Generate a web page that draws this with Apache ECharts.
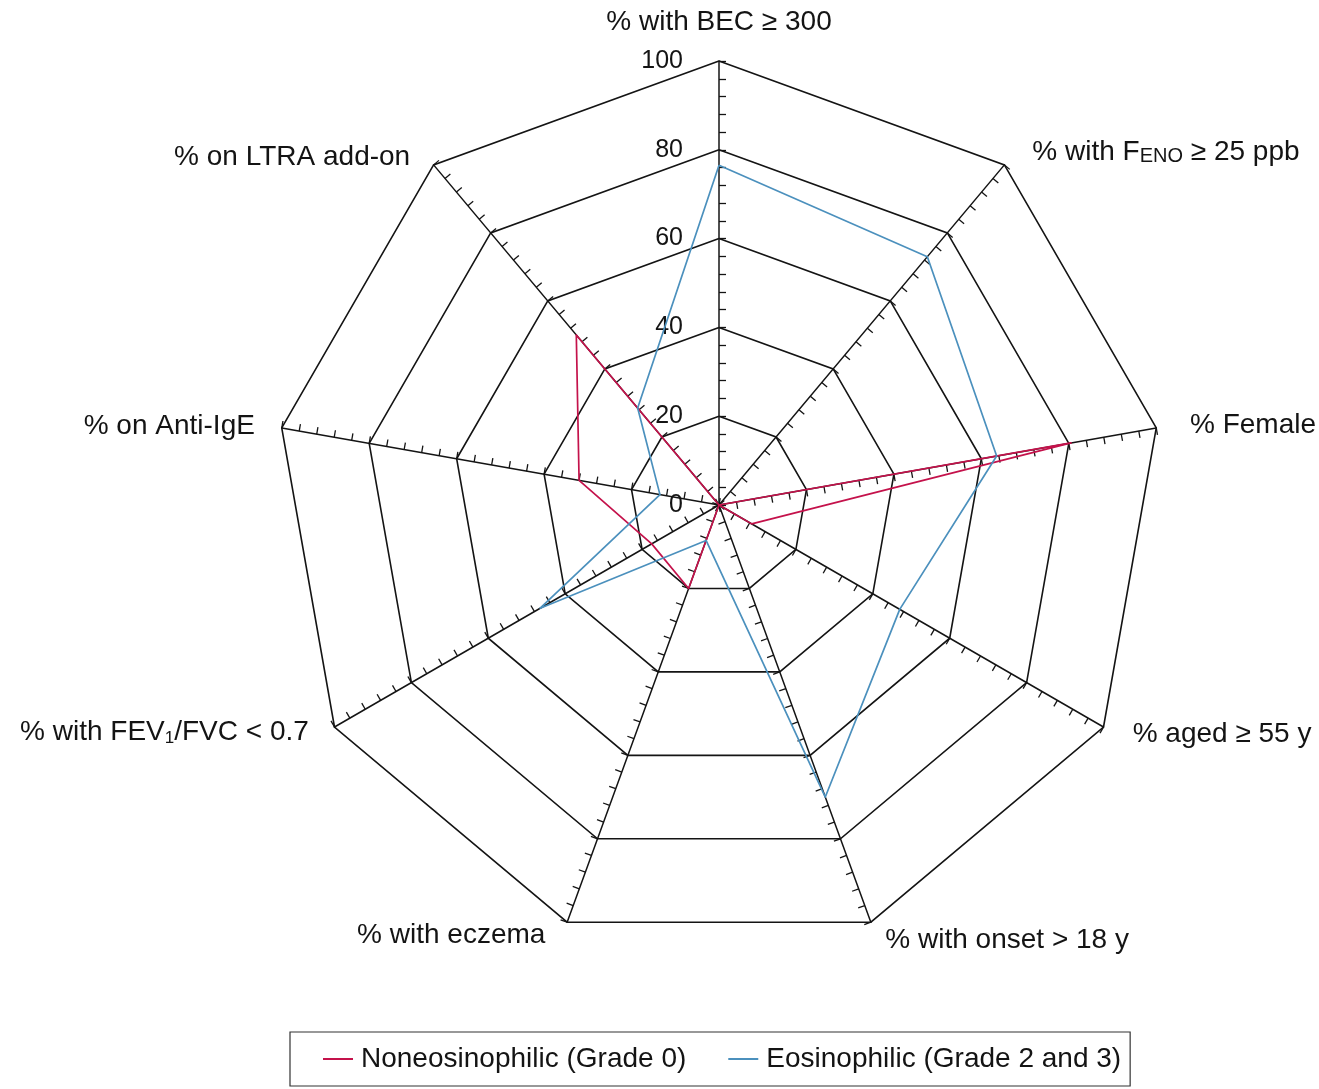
<!DOCTYPE html>
<html>
<head>
<meta charset="utf-8">
<script src="https://cdn.jsdelivr.net/npm/echarts@6/dist/echarts.min.js"></script>
<style>
html,body{margin:0;padding:0;background:#ffffff;}
#chart{width:1319px;height:1089px;}
</style>
</head>
<body>
<div id="chart"></div>
<script>
// Axis categories, listed clockwise starting from the top axis
const categories = [
  '% with BEC \u2265 300',
  '% with F{sc|ENO} \u2265 25 ppb',
  '% Female',
  '% aged \u2265 55 y',
  '% with onset > 18 y',
  '% with eczema',
  '% with FEV{sub|1}/FVC < 0.7',
  '% on Anti-IgE',
  '% on LTRA add-on'
];
const seriesNames = ['Noneosinophilic (Grade 0)', 'Eosinophilic (Grade 2 and 3)'];
// values in the same clockwise order as categories
const noneosinophilic = [0, 0, 80.5, 8.5, 0, 20, 17.5, 32, 50];
const eosinophilic = [76.5, 73, 63.5, 47, 70, 8.5, 46.5, 13.5, 28.5];
const tickLabels = [0, 20, 40, 60, 80, 100];
const axisMin = 0;
const axisMax = 100;
const minorSplits = 25; // a tick every 4 units, rings every 20

const FONT = "'Liberation Sans', Arial, Helvetica, sans-serif";
const RED = '#c4124b';
const BLUE = '#4b90bd';
const INK = '#141414';

// label spacing for each axis name (clockwise order, same as categories)
const nameGaps = [24, 17, 17, 14, 19, 14, 10, 10, 10];

// ECharts places radar indicators counter-clockwise; reorder to read clockwise
const n = categories.length;
const order = categories.map((_, i) => (n - i) % n);

const indicators = order.map((k, j) => {
  const ind = { name: categories[k], min: axisMin, max: axisMax, nameGap: nameGaps[k] };
  if (k === 4) ind.nameTextStyle = { padding: [0, 8, 0, 8] };
  if (j === 0) {
    ind.axisLabel = {
      show: true,
      fontSize: 25,
      fontFamily: FONT,
      color: INK,
      margin: 36,
      showMinLabel: true,
      showMaxLabel: true,
      formatter: function (v) {
        const r = Math.round(v);
        return (Math.abs(v - r) < 1e-6 && tickLabels.indexOf(r) >= 0) ? String(r) : '';
      }
    };
  }
  return ind;
});

// ring colours: only every 5th minor ring is drawn
const ringColors = [];
for (let i = 0; i < 5; i++) ringColors.push(i === 0 ? INK : 'rgba(0,0,0,0)');

const chart = echarts.init(document.getElementById('chart'), null, { renderer: 'canvas' });
chart.setOption({
  animation: false,
  backgroundColor: '#ffffff',
  color: [RED, BLUE],
  legend: {
    data: seriesNames,
    left: 290,
    top: 1032,
    orient: 'horizontal',
    padding: [13, 9, 13, 33],
    itemGap: 42,
    itemWidth: 30,
    itemHeight: 2,
    icon: 'rect',
    borderColor: '#333333',
    borderWidth: 1.2,
    textStyle: { fontSize: 28, fontFamily: FONT, color: INK, padding: [0, 0, 0, 3] }
  },
  radar: {
    center: [719, 505],
    radius: 444,
    startAngle: 90,
    shape: 'polygon',
    splitNumber: minorSplits,
    indicator: indicators,
    axisNameGap: 16,
    axisName: {
      color: INK,
      fontSize: 28,
      fontFamily: FONT,
      lineHeight: 30,
      padding: [0, 17, 0, 17],
      rich: {
        sc: { fontSize: 20, fontFamily: FONT, color: INK, lineHeight: 30, verticalAlign: 'bottom' },
        sub: { fontSize: 17, fontFamily: FONT, color: INK, lineHeight: 17, verticalAlign: 'bottom' }
      }
    },
    axisLine: { lineStyle: { color: INK, width: 1.5 } },
    axisTick: { show: true, length: -7, lineStyle: { color: INK, width: 1.3 } },
    axisLabel: { show: false },
    splitLine: { lineStyle: { color: ringColors, width: 1.6 } },
    splitArea: { show: false }
  },
  series: [{
    type: 'radar',
    symbol: 'none',
    data: [
      { name: seriesNames[0], value: order.map(k => noneosinophilic[k]),
        lineStyle: { color: RED, width: 1.7 }, itemStyle: { color: RED } },
      { name: seriesNames[1], value: order.map(k => eosinophilic[k]),
        lineStyle: { color: BLUE, width: 1.7 }, itemStyle: { color: BLUE } }
    ]
  }]
});
</script>
</body>
</html>
